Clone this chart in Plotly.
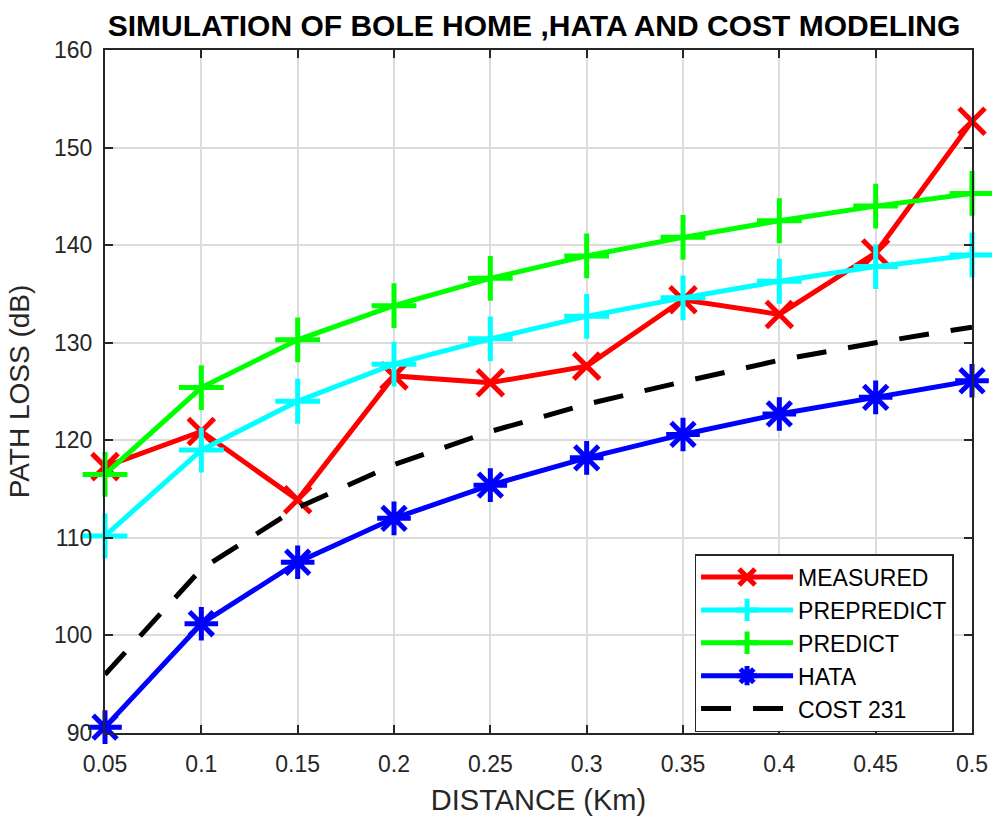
import plotly.graph_objects as go

# Distance points (km)
distance = [0.05, 0.10, 0.15, 0.20, 0.25, 0.30, 0.35, 0.40, 0.45, 0.50]

# Path loss (dB) for each model
measured = [117.3, 120.9, 113.9, 126.6, 125.9, 127.6, 134.4, 132.9, 139.2, 152.7]
prepredict = [110.2, 119.0, 124.0, 127.8, 130.4, 132.7, 134.6, 136.3, 137.8, 139.0]
predict = [116.5, 125.4, 130.3, 133.8, 136.6, 138.9, 140.8, 142.5, 144.0, 145.3]
hata = [90.6, 101.2, 107.5, 112.0, 115.4, 118.2, 120.6, 122.7, 124.4, 126.1]
cost231 = [96.0, 106.8, 113.1, 117.5, 120.9, 123.7, 126.0, 128.2, 130.0, 131.6]

x_ticks = distance
x_tick_text = ["0.05", "0.1", "0.15", "0.2", "0.25", "0.3", "0.35", "0.4", "0.45", "0.5"]
y_ticks = [90, 100, 110, 120, 130, 140, 150, 160]

FONT = "Liberation Sans, Arial, Helvetica, sans-serif"

series = [
    ("MEASURED", measured, "#ff0000", "x-thin-open", 26),
    ("PREPREDICT", prepredict, "#00ffff", "cross-thin-open", 32),
    ("PREDICT", predict, "#00ff00", "cross-thin-open", 32),
    ("HATA", hata, "#0000ff", "asterisk-open", 28),
]

fig = go.Figure()
for name, vals, color, symbol, size in series:
    fig.add_trace(go.Scatter(
        x=distance, y=vals, name=name, mode="lines+markers",
        line=dict(color=color, width=5),
        marker=dict(symbol=symbol, size=size, color=color,
                    line=dict(color=color, width=5)),
        cliponaxis=False,
    ))

fig.add_trace(go.Scatter(
    x=distance, y=cost231, name="COST 231", mode="lines",
    line=dict(color="#000000", width=5, dash="30px,22px"),
    cliponaxis=False,
))

axis_common = dict(
    showline=True, linecolor="#262626", linewidth=2, mirror="ticks",
    ticks="inside", ticklen=8, tickwidth=1.5, tickcolor="#262626",
    showgrid=True, gridcolor="#dcdcdc", gridwidth=1.5, zeroline=False,
    automargin=False,
    tickfont=dict(family=FONT, size=23, color="#262626"),
)

fig.update_layout(
    width=992, height=817,
    paper_bgcolor="white", plot_bgcolor="white",
    margin=dict(l=105, r=20, t=50, b=84),
    title=dict(
        text="<b>SIMULATION OF BOLE HOME ,HATA AND COST MODELING</b>",
        font=dict(family=FONT, size=30, color="#000000"),
        x=0.5383, xanchor="center", y=0.969, yanchor="middle",
        automargin=False,
    ),
    xaxis=dict(
        range=[0.05, 0.5], tickvals=x_ticks, ticktext=x_tick_text,
        ticklabelstandoff=9,
        title=dict(text="DISTANCE (Km)", standoff=14,
                   font=dict(family=FONT, size=29, color="#262626")),
        **axis_common,
    ),
    yaxis=dict(
        range=[90, 160], tickvals=y_ticks,
        ticklabelstandoff=6,
        title=dict(text="PATH LOSS (dB)", standoff=16,
                   font=dict(family=FONT, size=28, color="#262626")),
        **axis_common,
    ),
    legend=dict(
        x=0.68, y=0.262, xanchor="left", yanchor="top",
        bgcolor="white", bordercolor="#262626", borderwidth=1.5,
        font=dict(family=FONT, size=23, color="#000000"),
        itemwidth=92, tracegroupgap=0,
    ),
    showlegend=True,
)

fig.write_html("out.html")
